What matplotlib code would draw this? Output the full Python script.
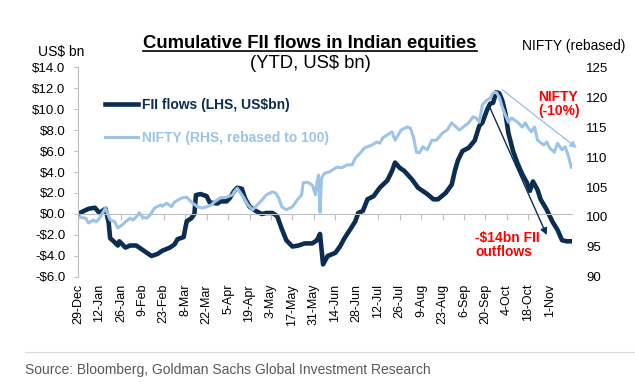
import matplotlib.pyplot as plt
from matplotlib.lines import Line2D

# days counted from 29-Dec-2023
fii_days = [0, 4, 7, 11, 14, 18, 20, 21, 24, 26, 27, 31, 34, 38, 42, 45, 48, 52, 55, 60,
            63, 65, 69, 70, 71, 74, 76, 77, 80, 84, 86, 91, 93, 97, 99, 102, 104, 107, 109, 112,
            116, 120, 123, 127, 130, 133, 136, 140, 144, 148, 153, 156, 158, 160, 163, 168, 171, 174, 178, 181,
            183, 186, 189, 193, 197, 202, 205, 207, 210, 213, 218, 222, 228, 232, 235, 240, 244, 246, 248, 251,
            255, 259, 262, 264, 267, 269, 271, 273, 275, 277, 279, 281, 284, 287, 290, 293, 295, 297, 300, 302,
            306, 310, 313, 316, 319, 322]
fii_vals = [0.0, 0.3, 0.5, 0.6, 0.1, 0.5, -0.8, -2.3, -2.7, -3.0, -2.6, -3.2, -3.0, -3.0, -3.4, -3.7, -4.0, -3.8, -3.5, -3.2,
            -2.9, -2.4, -2.2, -1.4, -0.7, -0.4, 0.0, 1.8, 1.9, 1.7, 1.1, 1.0, 1.2, 1.2, 1.5, 2.2, 2.5, 2.4, 1.5, 0.7,
            0.3, 0.0, 0.1, 0.1, -0.2, -1.4, -2.5, -3.1, -3.0, -2.8, -2.8, -2.5, -1.9, -4.8, -4.0, -3.7, -3.1, -2.3, -1.4, -0.7,
            0.1, 0.3, 1.4, 1.7, 2.5, 3.2, 4.1, 4.9, 4.4, 4.1, 3.3, 2.5, 1.9, 1.4, 1.4, 2.0, 2.8, 4.1, 5.1, 6.0,
            6.3, 7.0, 8.4, 8.7, 9.9, 10.5, 10.6, 11.6, 11.5, 10.8, 9.6, 7.7, 6.0, 4.8, 3.8, 3.0, 2.2, 3.1, 2.3, 1.4,
            0.4, -0.8, -1.5, -2.5, -2.6, -2.6]

nifty_days = [0, 5, 7, 10, 12, 14, 18, 19, 21, 24, 26, 29, 31, 34, 36, 39, 40, 42, 45, 47,
              50, 54, 55, 58, 61, 63, 68, 71, 74, 78, 81, 84, 87, 89, 93, 97, 101, 102, 104, 108,
              111, 114, 117, 120, 123, 127, 129, 131, 133, 136, 140, 143, 146, 147, 150, 153, 155, 156, 157, 158,
              159, 161, 164, 169, 172, 176, 179, 181, 184, 187, 192, 195, 197, 199, 202, 205, 207, 211, 215, 217,
              219, 221, 223, 225, 228, 231, 234, 238, 241, 244, 246, 249, 253, 255, 258, 260, 262, 264, 267, 269,
              271, 273, 275, 277, 279, 281, 283, 287, 290, 292, 294, 296, 298, 300, 304, 306, 308, 311, 313, 316,
              318, 320, 322]
nifty_vals = [100.0, 99.8, 99.0, 99.5, 99.2, 99.8, 101.5, 100.8, 99.5, 99.2, 98.2, 98.7, 99.2, 99.8, 99.5, 100.3, 100.7, 100.0, 99.8, 100.3,
              101.5, 102.0, 101.8, 102.3, 101.7, 102.5, 103.2, 103.3, 102.5, 101.7, 101.5, 101.7, 102.0, 102.5, 103.2, 103.3, 103.7, 104.2, 104.8, 103.3,
              102.0, 101.2, 102.0, 102.8, 103.7, 104.2, 104.0, 103.2, 101.7, 101.2, 101.7, 102.8, 103.7, 105.7, 105.8, 105.3, 103.7, 105.7, 107.0, 100.8,
              106.5, 107.3, 107.5, 108.3, 108.2, 108.7, 108.7, 109.8, 110.6, 111.5, 112.0, 112.5, 112.3, 113.2, 113.7, 114.2, 112.8, 114.5, 115.0, 114.8,
              113.3, 110.8, 110.7, 111.7, 111.2, 112.8, 112.8, 114.0, 114.5, 115.7, 115.2, 114.5, 115.3, 115.7, 116.7, 116.5, 115.8, 118.7, 119.5, 119.8,
              120.7, 120.8, 120.0, 118.3, 117.0, 115.8, 116.5, 115.8, 115.0, 115.7, 114.8, 114.2, 115.0, 112.8, 112.0, 112.5, 111.5, 110.8, 112.3, 111.2,
              111.7, 110.3, 108.3]

tick_days = [0, 14, 28, 42, 56, 70, 84, 98, 112, 126, 140, 154, 168, 182, 196, 210, 224, 238, 252, 266, 280, 294, 308]
tick_labels = ['29-Dec', '12-Jan', '26-Jan', '9-Feb', '23-Feb', '8-Mar', '22-Mar', '5-Apr', '19-Apr', '3-May',
               '17-May', '31-May', '14-Jun', '28-Jun', '12-Jul', '26-Jul', '9-Aug', '23-Aug', '6-Sep', '20-Sep',
               '4-Oct', '18-Oct', '1-Nov']
left_ticks = [-6, -4, -2, 0, 2, 4, 6, 8, 10, 12, 14]
left_labels = ['-$6.0', '-$4.0', '-$2.0', '$0.0', '$2.0', '$4.0', '$6.0', '$8.0', '$10.0', '$12.0', '$14.0']
right_ticks = [90, 95, 100, 105, 110, 115, 120, 125]

plt.rcParams['font.family'] = ['Liberation Sans', 'DejaVu Sans']

fii_col = '#0b2d52'
nifty_col = '#9dc3e6'
grey = '#bfbfbf'
red = '#ff0000'

fig = plt.figure(figsize=(6.35, 3.86), dpi=100)
ax = fig.add_axes([0.1228, 0.2824, 0.778, 0.544])
ax2 = ax.twinx()

ax.plot(fii_days, fii_vals, color=fii_col, lw=3.3, solid_joinstyle='round', label='FII flows (LHS, US$bn)')
ax2.plot(nifty_days, nifty_vals, color=nifty_col, lw=2.2, label='NIFTY (RHS, rebased to 100)')

ax.set_xlim(0, 322.5)
ax.set_ylim(-6, 14)
ax2.set_ylim(90, 125)

for a in (ax, ax2):
    for s in ('top', 'right'):
        a.spines[s].set_visible(False)
ax2.spines['left'].set_visible(False)
ax2.spines['bottom'].set_visible(False)

ax.spines['left'].set_color(grey)
ax.spines['bottom'].set_position(('data', 0))
ax.spines['bottom'].set_color(grey)

ax.set_yticks(left_ticks)
ax.set_yticklabels(left_labels)
ax.tick_params(axis='y', length=3, color=grey, pad=6, labelsize=9.5)
ax.set_xticks(tick_days)
ax.tick_params(axis='x', length=4, color=grey, labelbottom=False)

sec = ax.secondary_xaxis('bottom')
sec.spines['bottom'].set_visible(False)
sec.set_xticks(tick_days)
sec.set_xticklabels(tick_labels, rotation=90)
sec.tick_params(axis='x', length=0, pad=5, labelsize=9)

ax2.set_yticks(right_ticks)
ax2.tick_params(axis='y', length=0, pad=10, labelsize=9.5)

# legend
h1, l1 = ax.get_legend_handles_labels()
h2, l2 = ax2.get_legend_handles_labels()
leg = ax2.legend(h1 + h2, l1 + l2, loc='upper left', bbox_to_anchor=(105 / 635, 1 - 98 / 386),
                 bbox_transform=fig.transFigure, frameon=False, handlelength=2.4,
                 handletextpad=0.25, labelspacing=1.35, borderpad=0, borderaxespad=0,
                 prop={'weight': 'bold', 'size': 10}, labelcolor=[fii_col, nifty_col])

# arrows
ax2.annotate('', xy=(325.7, 111.5), xytext=(277, 121.2), annotation_clip=False,
             arrowprops=dict(arrowstyle='-|>', color=nifty_col, lw=1, mutation_scale=10, shrinkA=0, shrinkB=0))
ax2.annotate('', xy=(306, -2.0), xytext=(269, 10.1), xycoords=ax.transData, textcoords=ax.transData,
             arrowprops=dict(arrowstyle='-|>', color=fii_col, lw=1, mutation_scale=10, shrinkA=0, shrinkB=0))

ax2.text(0.931, 0.826, 'NIFTY\n(-10%)', transform=ax.transAxes, color=red, fontsize=10,
         fontweight='bold', ha='left', va='center', linespacing=1.0)
ax2.text(0.804, 0.152, '-$14bn FII\noutflows', transform=ax.transAxes, color=red, fontsize=10,
         fontweight='bold', ha='left', va='center', linespacing=1.0)

# titles
title = fig.text(310 / 635, 1 - 43 / 386, 'Cumulative FII flows in Indian equities', ha='center', va='center',
                 fontsize=13.3, fontweight='bold')
fig.text(310 / 635, 1 - 63 / 386, '(YTD, US$ bn)', ha='center', va='center', fontsize=13.3)
fig.text(61 / 635, 1 - 52 / 386, 'US$ bn', ha='center', va='center', fontsize=10)
fig.text(574 / 635, 1 - 46 / 386, 'NIFTY (rebased)', ha='center', va='center', fontsize=10)

fig.canvas.draw()
bb = title.get_window_extent(fig.canvas.get_renderer()).transformed(fig.transFigure.inverted())
uy = 1 - 51 / 386
fig.add_artist(Line2D([bb.x0, bb.x1], [uy, uy], transform=fig.transFigure, color='black', lw=1.2))

# source
fig.add_artist(Line2D([25 / 635, 1.0], [1 - 352 / 386] * 2, transform=fig.transFigure, color='#d9d9d9', lw=0.8))
fig.text(25 / 635, 1 - 370 / 386, 'Source: Bloomberg, Goldman Sachs Global Investment Research',
         ha='left', va='center', fontsize=10, color='#595959')

fig.savefig('out.png', dpi=100)
